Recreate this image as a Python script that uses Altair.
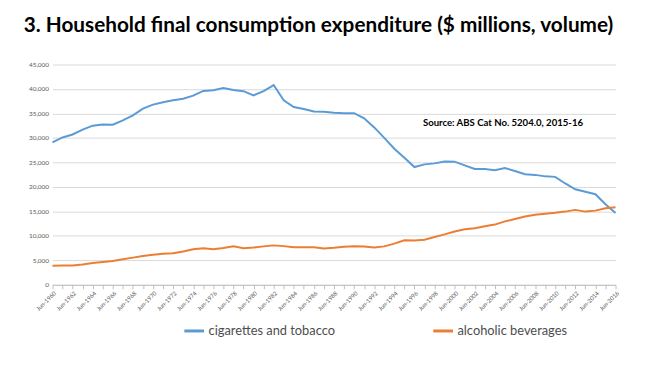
import altair as alt
import pandas as pd

years = list(range(1960, 2017))
cigarettes = [29100, 30100, 30700, 31700, 32500, 32750, 32700, 33600, 34600, 36000,
              36800, 37300, 37700, 38000, 38650, 39600, 39750, 40200, 39800, 39550,
              38700, 39550, 40800, 37700, 36300, 35900, 35400, 35350, 35150, 35050,
              35050, 34000, 32150, 30000, 27800, 25950, 24050, 24600, 24800, 25200,
              25150, 24400, 23650, 23650, 23400, 23850, 23250, 22600, 22450, 22150,
              22050, 20700, 19500, 19000, 18500, 16450, 14650]
alcohol = [3900, 3950, 3950, 4150, 4450, 4650, 4850, 5200, 5550, 5900,
           6150, 6350, 6450, 6800, 7250, 7450, 7250, 7500, 7850, 7450,
           7600, 7850, 8050, 7900, 7650, 7650, 7650, 7400, 7550, 7750,
           7850, 7800, 7600, 7850, 8400, 9100, 9050, 9200, 9750, 10300,
           10900, 11350, 11550, 11950, 12300, 12950, 13450, 13950, 14300, 14500,
           14700, 14950, 15300, 14950, 15150, 15650, 15850]
series_names = ["cigarettes and tobacco", "alcoholic beverages"]
colors = ["#5B9BD5", "#ED7D31"]
title_text = "3. Household final consumption expenditure ($ millions, volume)"
source_text = "Source: ABS Cat No. 5204.0, 2015-16"

rows = []
for i, y in enumerate(years):
    rows.append({"year": y, "series": series_names[0], "value": cigarettes[i]})
    rows.append({"year": y, "series": series_names[1], "value": alcohol[i]})
df = pd.DataFrame(rows)

FONT = "Lato"

lines = alt.Chart(df).mark_line(strokeWidth=2).encode(
    x=alt.X("year:Q",
            scale=alt.Scale(domain=[1960, 2016], nice=False, zero=False),
            axis=alt.Axis(values=years, grid=False, title=None,
                          labelExpr="datum.value % 2 == 0 ? 'Jun-' + datum.value : ''",
                          labelAngle=-45, labelAlign="right", labelBaseline="top",
                          labelFontSize=6, labelColor="#595959", labelFont=FONT,
                          labelPadding=1, labelOverlap=False,
                          domainColor="#BFBFBF", tickColor="#BFBFBF", tickSize=4)),
    y=alt.Y("value:Q",
            scale=alt.Scale(domain=[0, 45000], nice=False),
            axis=alt.Axis(values=list(range(0, 45001, 5000)), format=",d", title=None,
                          domain=False, ticks=False, labelFontSize=6.5,
                          labelColor="#595959", labelFont=FONT, labelPadding=4,
                          gridColor="#D9D9D9", gridWidth=1)),
    color=alt.Color("series:N",
                    scale=alt.Scale(domain=series_names, range=colors),
                    sort=series_names,
                    legend=alt.Legend(title=None, orient="none", direction="horizontal",
                                      legendX=132, legendY=258,
                                      symbolType="stroke", symbolSize=400,
                                      symbolStrokeWidth=3, labelFontSize=13,
                                      labelFont=FONT, labelColor="#4D4D4D",
                                      columnPadding=92, labelOffset=3)),
)

source = alt.Chart(pd.DataFrame({"t": [source_text]})).mark_text(
    align="left", baseline="middle", fontSize=9.7, fontWeight="bold",
    font=FONT, color="#000000"
).encode(text="t:N", x=alt.value(375), y=alt.value(59))

chart = alt.layer(lines, source).properties(
    width=570, height=223,
    padding={"left": 45, "top": 55, "right": 43, "bottom": 79},
    autosize=alt.AutoSizeParams(type="none"),
    title=alt.TitleParams(title_text, anchor="start", frame="group", fontSize=21,
                          font=FONT, fontWeight="bold", color="#000000",
                          dx=-29, offset=26),
).configure_view(stroke=None)

chart.save("out.html", embed_options={"renderer": "svg", "actions": False})
